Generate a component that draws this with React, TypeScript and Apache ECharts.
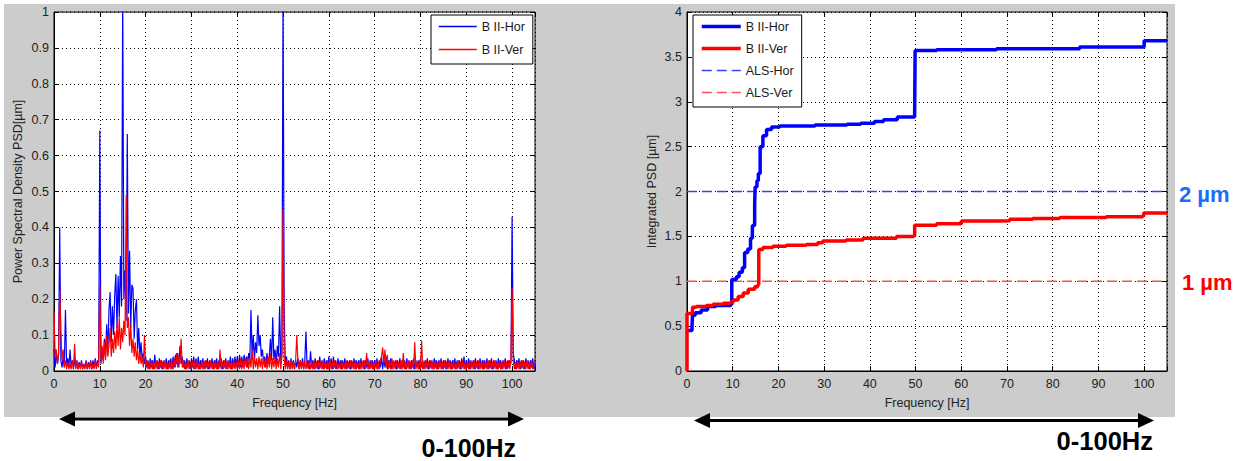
import React, { useEffect, useRef } from "react";
import * as echarts from "echarts";

// ---------------- DATA ----------------
const FREQ_STEP_HZ = 0.25;
const X_MAX_HZ = 105;
const X_TICK_STEP = 10;

// Power spectral density, horizontal (blue) – one value every 0.25 Hz, 0..105 Hz
const HOR_PSD: number[] = [
  0.06, 0.01, 0.05, 0.02, 0.045, 0.40, 0.03, 0.01, 0.04, 0.01, 0.17, 0.02, 0.035, 0.01, 0.06, 0.01, 0.03, 0.005, 0.035, 0.01,
  0.03, 0.005, 0.025, 0.01, 0.03, 0.005, 0.02, 0.01, 0.03, 0.005, 0.025, 0.01, 0.03, 0.005, 0.03, 0.01, 0.035, 0.01, 0.03, 0.02,
  0.67, 0.02, 0.06, 0.03, 0.09, 0.04, 0.13, 0.05, 0.17, 0.22, 0.08, 0.18, 0.10, 0.21, 0.27, 0.12, 0.265, 0.15, 0.32, 0.18,
  1.05, 0.20, 0.28, 0.14, 0.66, 0.16, 0.335, 0.12, 0.24, 0.23, 0.09, 0.17, 0.20, 0.06, 0.12, 0.04, 0.08, 0.03, 0.05, 0.02,
  0.04, 0.01, 0.03, 0.005, 0.035, 0.01, 0.03, 0.005, 0.045, 0.01, 0.03, 0.005, 0.035, 0.01, 0.03, 0.005, 0.03, 0.01, 0.035, 0.005,
  0.03, 0.01, 0.035, 0.005, 0.04, 0.01, 0.045, 0.02, 0.05, 0.01, 0.07, 0.02, 0.04, 0.01, 0.03, 0.005, 0.035, 0.01, 0.03, 0.005,
  0.035, 0.01, 0.04, 0.005, 0.035, 0.01, 0.04, 0.005, 0.03, 0.01, 0.035, 0.005, 0.03, 0.01, 0.035, 0.005, 0.03, 0.01, 0.035, 0.005,
  0.03, 0.01, 0.035, 0.005, 0.03, 0.01, 0.035, 0.005, 0.03, 0.01, 0.035, 0.005, 0.03, 0.01, 0.04, 0.005, 0.035, 0.01, 0.04, 0.01,
  0.04, 0.01, 0.045, 0.01, 0.04, 0.01, 0.045, 0.02, 0.04, 0.01, 0.05, 0.03, 0.17, 0.04, 0.10, 0.03, 0.08, 0.05, 0.155, 0.07,
  0.10, 0.04, 0.06, 0.02, 0.04, 0.01, 0.05, 0.02, 0.04, 0.09, 0.03, 0.15, 0.03, 0.06, 0.02, 0.07, 0.04, 0.18, 0.03, 0.05,
  1.05, 0.16, 0.02, 0.04, 0.01, 0.03, 0.005, 0.035, 0.01, 0.03, 0.005, 0.03, 0.01, 0.035, 0.005, 0.03, 0.01, 0.035, 0.005, 0.03,
  0.11, 0.01, 0.03, 0.005, 0.055, 0.01, 0.03, 0.005, 0.035, 0.01, 0.03, 0.005, 0.04, 0.01, 0.03, 0.005, 0.035, 0.01, 0.03, 0.005,
  0.04, 0.01, 0.035, 0.005, 0.04, 0.01, 0.03, 0.005, 0.035, 0.01, 0.03, 0.005, 0.03, 0.01, 0.035, 0.005, 0.03, 0.01, 0.03, 0.005,
  0.03, 0.01, 0.035, 0.005, 0.03, 0.01, 0.03, 0.005, 0.035, 0.01, 0.03, 0.005, 0.03, 0.01, 0.035, 0.005, 0.03, 0.01, 0.03, 0.005,
  0.03, 0.01, 0.035, 0.005, 0.03, 0.01, 0.04, 0.005, 0.035, 0.01, 0.04, 0.005, 0.03, 0.01, 0.035, 0.005, 0.03, 0.01, 0.03, 0.005,
  0.03, 0.01, 0.035, 0.005, 0.03, 0.01, 0.03, 0.005, 0.035, 0.01, 0.03, 0.005, 0.03, 0.01, 0.035, 0.005, 0.03, 0.01, 0.03, 0.005,
  0.035, 0.01, 0.03, 0.005, 0.03, 0.01, 0.035, 0.005, 0.03, 0.01, 0.03, 0.005, 0.035, 0.01, 0.03, 0.005, 0.03, 0.01, 0.035, 0.005,
  0.03, 0.01, 0.03, 0.005, 0.035, 0.01, 0.03, 0.005, 0.03, 0.01, 0.035, 0.005, 0.03, 0.01, 0.03, 0.005, 0.035, 0.01, 0.04, 0.005,
  0.03, 0.01, 0.035, 0.005, 0.03, 0.01, 0.03, 0.005, 0.035, 0.01, 0.03, 0.005, 0.035, 0.01, 0.03, 0.005, 0.03, 0.01, 0.035, 0.005,
  0.03, 0.01, 0.035, 0.005, 0.03, 0.01, 0.03, 0.005, 0.035, 0.01, 0.03, 0.005, 0.03, 0.01, 0.035, 0.005, 0.03, 0.01, 0.03, 0.02,
  0.43, 0.05, 0.03, 0.005, 0.03, 0.01, 0.035, 0.005, 0.03, 0.01, 0.03, 0.005, 0.035, 0.01, 0.03, 0.005, 0.03, 0.01, 0.035, 0.005,
  0.03,
];

// Power spectral density, vertical (red) – one value every 0.25 Hz, 0..105 Hz
const VER_PSD: number[] = [
  0.165, 0.04, 0.06, 0.02, 0.05, 0.225, 0.11, 0.03, 0.06, 0.01, 0.03, 0.005, 0.025, 0.005, 0.02, 0.005, 0.03, 0.005, 0.075, 0.005,
  0.025, 0.005, 0.02, 0.005, 0.025, 0.005, 0.02, 0.005, 0.025, 0.005, 0.02, 0.005, 0.025, 0.005, 0.02, 0.005, 0.03, 0.005, 0.025, 0.01,
  0.24, 0.03, 0.07, 0.02, 0.08, 0.03, 0.10, 0.04, 0.07, 0.12, 0.04, 0.09, 0.05, 0.11, 0.06, 0.13, 0.07, 0.15, 0.06, 0.12,
  0.08, 0.14, 0.10, 0.49, 0.12, 0.15, 0.07, 0.13, 0.05, 0.09, 0.04, 0.08, 0.03, 0.06, 0.02, 0.05, 0.02, 0.04, 0.01, 0.10,
  0.01, 0.03, 0.005, 0.025, 0.005, 0.03, 0.005, 0.025, 0.005, 0.03, 0.005, 0.025, 0.005, 0.03, 0.005, 0.025, 0.005, 0.03, 0.005, 0.025,
  0.005, 0.03, 0.005, 0.025, 0.005, 0.035, 0.01, 0.05, 0.01, 0.04, 0.02, 0.09, 0.01, 0.03, 0.005, 0.025, 0.005, 0.03, 0.005, 0.025,
  0.005, 0.03, 0.005, 0.025, 0.005, 0.03, 0.005, 0.02, 0.005, 0.03, 0.005, 0.025, 0.005, 0.03, 0.005, 0.025, 0.005, 0.03, 0.005, 0.025,
  0.005, 0.03, 0.005, 0.025, 0.005, 0.06, 0.005, 0.025, 0.005, 0.03, 0.005, 0.025, 0.005, 0.03, 0.005, 0.025, 0.005, 0.03, 0.005, 0.025,
  0.005, 0.03, 0.005, 0.035, 0.005, 0.03, 0.005, 0.035, 0.01, 0.04, 0.005, 0.035, 0.01, 0.06, 0.005, 0.04, 0.01, 0.035, 0.005, 0.04,
  0.01, 0.035, 0.005, 0.04, 0.01, 0.035, 0.005, 0.04, 0.01, 0.05, 0.005, 0.035, 0.01, 0.04, 0.005, 0.035, 0.01, 0.05, 0.005, 0.04,
  0.45, 0.03, 0.005, 0.03, 0.005, 0.025, 0.005, 0.03, 0.005, 0.025, 0.005, 0.03, 0.10, 0.025, 0.005, 0.03, 0.005, 0.025, 0.005, 0.03,
  0.005, 0.025, 0.005, 0.03, 0.005, 0.025, 0.005, 0.03, 0.005, 0.025, 0.005, 0.03, 0.005, 0.025, 0.005, 0.03, 0.005, 0.025, 0.005, 0.03,
  0.005, 0.03, 0.005, 0.025, 0.005, 0.03, 0.005, 0.025, 0.005, 0.02, 0.005, 0.03, 0.005, 0.025, 0.005, 0.03, 0.005, 0.025, 0.005, 0.03,
  0.005, 0.025, 0.005, 0.03, 0.005, 0.025, 0.005, 0.03, 0.005, 0.025, 0.005, 0.03, 0.005, 0.05, 0.005, 0.025, 0.005, 0.03, 0.005, 0.025,
  0.005, 0.03, 0.005, 0.025, 0.005, 0.03, 0.04, 0.065, 0.02, 0.06, 0.01, 0.045, 0.005, 0.03, 0.005, 0.035, 0.005, 0.025, 0.005, 0.03,
  0.005, 0.025, 0.005, 0.03, 0.005, 0.05, 0.005, 0.025, 0.005, 0.03, 0.005, 0.025, 0.005, 0.03, 0.005, 0.08, 0.005, 0.025, 0.005, 0.03,
  0.005, 0.085, 0.005, 0.025, 0.005, 0.03, 0.005, 0.025, 0.005, 0.03, 0.005, 0.025, 0.005, 0.03, 0.005, 0.025, 0.005, 0.03, 0.005, 0.025,
  0.005, 0.03, 0.005, 0.025, 0.005, 0.03, 0.005, 0.025, 0.005, 0.03, 0.005, 0.02, 0.005, 0.03, 0.005, 0.025, 0.005, 0.03, 0.005, 0.025,
  0.005, 0.025, 0.005, 0.03, 0.005, 0.025, 0.005, 0.03, 0.005, 0.025, 0.005, 0.03, 0.005, 0.025, 0.005, 0.03, 0.005, 0.025, 0.005, 0.03,
  0.005, 0.03, 0.005, 0.025, 0.005, 0.03, 0.005, 0.025, 0.005, 0.03, 0.005, 0.025, 0.005, 0.03, 0.005, 0.025, 0.005, 0.03, 0.005, 0.035,
  0.23, 0.03, 0.005, 0.025, 0.005, 0.03, 0.005, 0.025, 0.005, 0.03, 0.005, 0.025, 0.005, 0.03, 0.005, 0.025, 0.005, 0.03, 0.005, 0.025,
  0.02,
];

// Integrated PSD [µm] : [frequency Hz, value]
const HOR_INTEGRATED: [number, number][] = [
  [0, 0.45], [1.1, 0.5], [1.2, 0.62], [1.8, 0.65], [3.1, 0.68], [4.5, 0.72], [6.3, 0.73], [9.6, 0.74],
  [9.8, 1.02], [10.8, 1.05], [11.4, 1.1], [12.1, 1.15], [12.6, 1.32], [13.3, 1.36], [13.9, 1.48], [14.3, 1.62],
  [14.8, 1.85], [14.9, 2.05], [15.3, 2.12], [15.6, 2.2], [16.0, 2.5], [16.6, 2.62], [17.4, 2.69], [18.5, 2.72],
  [20.3, 2.73], [28, 2.74], [35, 2.75], [38, 2.76], [41, 2.78], [43, 2.8], [46, 2.83], [49.8, 2.87],
  [49.9, 3.57], [54.6, 3.58], [67.7, 3.59], [85.9, 3.61], [99.8, 3.61], [100, 3.68], [105, 3.68],
];
const VER_INTEGRATED: [number, number][] = [
  [0, 0], [0, 0.64], [1.0, 0.64], [1.2, 0.71], [2.0, 0.72], [4.2, 0.73], [5.7, 0.745], [7.9, 0.755], [9.5, 0.765],
  [10.1, 0.79], [11.2, 0.83], [12.3, 0.87], [13.4, 0.91], [14.8, 0.94], [15.5, 0.96], [15.7, 1.355], [16.6, 1.375],
  [18.8, 1.39], [21.7, 1.4], [26.1, 1.41], [28.6, 1.43], [29.7, 1.448], [34.8, 1.46], [38.5, 1.478], [45.8, 1.5],
  [49.6, 1.51], [49.8, 1.625], [54.6, 1.64], [60, 1.67], [68.5, 1.675], [70.6, 1.69], [75.6, 1.7], [81.5, 1.71],
  [91.7, 1.72], [99.7, 1.73], [99.9, 1.76], [105, 1.76],
];
const ALS_HOR_LIMIT = 2;
const ALS_VER_LIMIT = 1;

const LEFT_NAMES = ["B II-Hor", "B II-Ver"];
const RIGHT_NAMES = ["B II-Hor", "B II-Ver", "ALS-Hor", "ALS-Ver"];
const RIGHT_PREFIX = "R:";

const FONT = "'Liberation Sans', Arial, sans-serif";
const TICK_COLOR = "#222";

function mainX(gridIndex: number) {
  return {
    type: "value", gridIndex, min: 0, max: X_MAX_HZ, interval: X_TICK_STEP,
    name: "Frequency [Hz]", nameLocation: "middle", nameGap: 25,
    nameTextStyle: { fontFamily: FONT, fontSize: 12.5, color: TICK_COLOR },
    axisLine: { show: true, onZero: false, lineStyle: { color: "#000", width: 1 } },
    axisTick: { show: true, inside: true, length: 5, lineStyle: { color: "#000" } },
    axisLabel: {
      fontFamily: FONT, fontSize: 12.5, color: TICK_COLOR, margin: 6,
      formatter: (v: number) => (v > 100 ? "" : String(v)),
    },
    splitLine: { show: true, lineStyle: { color: "#000", width: 1, type: [1, 3] } },
  };
}
function mirrorX(gridIndex: number) {
  return {
    type: "value", gridIndex, min: 0, max: X_MAX_HZ, interval: X_TICK_STEP, position: "top",
    axisLine: { show: false, onZero: false },
    axisTick: { show: true, inside: true, length: 5, lineStyle: { color: "#000" } },
    axisLabel: { show: false }, splitLine: { show: false },
  };
}
function mainY(gridIndex: number, max: number, interval: number, name: string, nameGap: number) {
  return {
    type: "value", gridIndex, min: 0, max, interval, name, nameLocation: "middle", nameGap,
    nameTextStyle: { fontFamily: FONT, fontSize: 12.5, color: TICK_COLOR },
    axisLine: { show: true, onZero: false, lineStyle: { color: "#000", width: 1 } },
    axisTick: { show: true, inside: true, length: 5, lineStyle: { color: "#000" } },
    axisLabel: { fontFamily: FONT, fontSize: 12.5, color: TICK_COLOR, margin: 5 },
    splitLine: { show: true, lineStyle: { color: "#000", width: 1, type: [1, 3] } },
  };
}
function mirrorY(gridIndex: number, max: number, interval: number) {
  return {
    type: "value", gridIndex, min: 0, max, interval, position: "right",
    axisLine: { show: false, onZero: false },
    axisTick: { show: true, inside: true, length: 5, lineStyle: { color: "#000" } },
    axisLabel: { show: false }, splitLine: { show: false },
  };
}

export default function App() {
  const ref = useRef<HTMLDivElement>(null);
  useEffect(() => {
    document.body.style.margin = "0";
    if (!ref.current) return;
    const chart = echarts.init(ref.current, undefined, { renderer: "svg" });

    const horPsd = HOR_PSD.map((v, i) => [i * FREQ_STEP_HZ, v]);
    const verPsd = VER_PSD.map((v, i) => [i * FREQ_STEP_HZ, v]);

    const legendText = { fontFamily: FONT, fontSize: 12.5, color: "#1a1a1a" };
    const hidden = { opacity: 0 };

    chart.setOption({
      animation: false,
      grid: [
        { left: 54, top: 12, width: 481, height: 359, show: true, backgroundColor: "#fff", borderColor: "#000", borderWidth: 1 },
        { left: 687, top: 12, width: 480, height: 359, show: true, backgroundColor: "#fff", borderColor: "#000", borderWidth: 1 },
      ],
      xAxis: [mainX(0), mirrorX(0), mainX(1), mirrorX(1)],
      yAxis: [
        mainY(0, 1, 0.1, "Power Spectral Density PSD[µm]", 30),
        mirrorY(0, 1, 0.1),
        mainY(1, 4, 0.5, "Integrated PSD [µm]", 29),
        mirrorY(1, 4, 0.5),
      ],
      legend: [
        {
          orient: "vertical", left: 431, top: 15, selectedMode: false,
          itemWidth: 38, itemHeight: 14, itemGap: 10, padding: [5, 8, 8, 7],
          borderColor: "#000", borderWidth: 1, backgroundColor: "#fff", borderRadius: 0,
          textStyle: legendText,
          data: [
            { name: LEFT_NAMES[0], lineStyle: { width: 1.5 }, itemStyle: hidden },
            { name: LEFT_NAMES[1], lineStyle: { width: 1.5 }, itemStyle: hidden },
          ],
        },
        {
          orient: "vertical", left: 693, top: 15, selectedMode: false,
          itemWidth: 39, itemHeight: 14, itemGap: 9, padding: [5, 8, 8, 7],
          borderColor: "#000", borderWidth: 1, backgroundColor: "#fff", borderRadius: 0,
          textStyle: legendText,
          formatter: (n: string) => n.replace(RIGHT_PREFIX, ""),
          data: [
            { name: RIGHT_PREFIX + RIGHT_NAMES[0], lineStyle: { width: 3.5 }, itemStyle: hidden },
            { name: RIGHT_PREFIX + RIGHT_NAMES[1], lineStyle: { width: 3.5 }, itemStyle: hidden },
            { name: RIGHT_PREFIX + RIGHT_NAMES[2], lineStyle: { width: 1.5 }, itemStyle: hidden },
            { name: RIGHT_PREFIX + RIGHT_NAMES[3], lineStyle: { width: 1.5 }, itemStyle: hidden },
          ],
        },
      ],
      series: [
        {
          name: LEFT_NAMES[0], type: "line", xAxisIndex: 0, yAxisIndex: 0, data: horPsd,
          symbol: "none", showSymbol: false, silent: true, clip: true,
          lineStyle: { color: "#0000ff", width: 1.2 }, itemStyle: { color: "#0000ff" },
        },
        {
          name: LEFT_NAMES[1], type: "line", xAxisIndex: 0, yAxisIndex: 0, data: verPsd,
          symbol: "none", showSymbol: false, silent: true, clip: true,
          lineStyle: { color: "#ff0000", width: 1.2 }, itemStyle: { color: "#ff0000" },
        },
        {
          name: RIGHT_PREFIX + RIGHT_NAMES[2], type: "line", xAxisIndex: 2, yAxisIndex: 2,
          data: [[0, ALS_HOR_LIMIT], [X_MAX_HZ, ALS_HOR_LIMIT]],
          symbol: "none", silent: true, z: 3,
          lineStyle: { color: "#3c3cff", width: 1.5, type: [10, 5] }, itemStyle: { color: "#3c3cff" },
        },
        {
          name: RIGHT_PREFIX + RIGHT_NAMES[3], type: "line", xAxisIndex: 2, yAxisIndex: 2,
          data: [[0, ALS_VER_LIMIT], [X_MAX_HZ, ALS_VER_LIMIT]],
          symbol: "none", silent: true, z: 3,
          lineStyle: { color: "#ff5050", width: 1.5, type: [10, 5] }, itemStyle: { color: "#ff5050" },
        },
        {
          name: RIGHT_PREFIX + RIGHT_NAMES[0], type: "line", xAxisIndex: 2, yAxisIndex: 2, data: HOR_INTEGRATED,
          symbol: "none", step: "end", silent: true, z: 4,
          lineStyle: { color: "#0000ff", width: 3.5 }, itemStyle: { color: "#0000ff" },
        },
        {
          name: RIGHT_PREFIX + RIGHT_NAMES[1], type: "line", xAxisIndex: 2, yAxisIndex: 2, data: VER_INTEGRATED,
          symbol: "none", step: "end", silent: true, z: 4,
          lineStyle: { color: "#ff0000", width: 3.5 }, itemStyle: { color: "#ff0000" },
        },
      ],
      graphic: [
        { type: "rect", z: -100, silent: true, shape: { x: 4, y: 4, width: 1171, height: 413 }, style: { fill: "#cccccc" } },
        { type: "line", silent: true, shape: { x1: 70, y1: 419, x2: 513, y2: 419 }, style: { stroke: "#000", lineWidth: 3 } },
        { type: "polygon", silent: true, shape: { points: [[59, 419], [75, 411.5], [75, 426.5]] }, style: { fill: "#000" } },
        { type: "polygon", silent: true, shape: { points: [[524, 419], [508, 411.5], [508, 426.5]] }, style: { fill: "#000" } },
        { type: "line", silent: true, shape: { x1: 705, y1: 420.5, x2: 1143, y2: 420.5 }, style: { stroke: "#000", lineWidth: 3 } },
        { type: "polygon", silent: true, shape: { points: [[694, 420.5], [710, 413], [710, 428]] }, style: { fill: "#000" } },
        { type: "polygon", silent: true, shape: { points: [[1154, 420.5], [1138, 413], [1138, 428]] }, style: { fill: "#000" } },
        {
          type: "text", silent: true, x: 516, y: 447.5,
          style: { text: "0-100Hz", fill: "#000", font: `bold 25px ${FONT}`, align: "right", verticalAlign: "middle" },
        },
        {
          type: "text", silent: true, x: 1153, y: 440.5,
          style: { text: "0-100Hz", fill: "#000", font: `bold 25.5px ${FONT}`, align: "right", verticalAlign: "middle" },
        },
        {
          type: "text", silent: true, x: 1179, y: 194,
          style: { text: "2 µm", fill: "#1a6cff", font: `bold 22px ${FONT}`, align: "left", verticalAlign: "middle" },
        },
        {
          type: "text", silent: true, x: 1182, y: 282,
          style: { text: "1 µm", fill: "#ff0000", font: `bold 22px ${FONT}`, align: "left", verticalAlign: "middle" },
        },
      ],
    });
    return () => chart.dispose();
  }, []);
  return <div ref={ref} style={{ width: 1236, height: 461 }} />;
}
